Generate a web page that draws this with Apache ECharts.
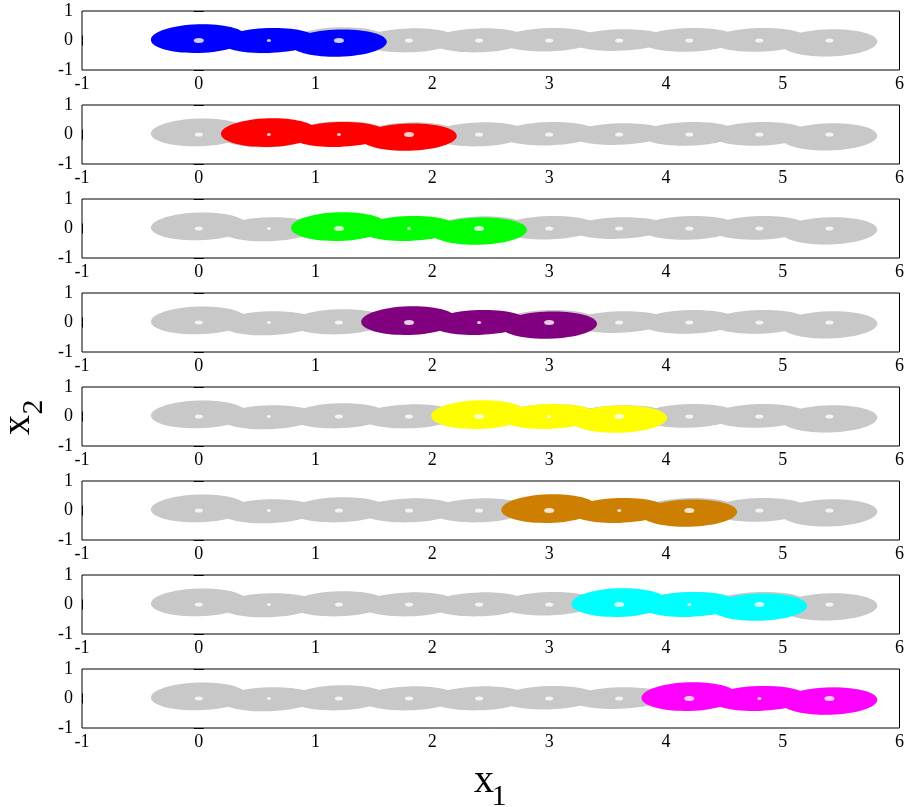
<!DOCTYPE html>
<html>
<head>
<meta charset="utf-8">
<script src="https://cdn.jsdelivr.net/npm/echarts@6/dist/echarts.min.js"></script>
<style>
  html, body { margin: 0; padding: 0; background: #fff; }
  #main { width: 907px; height: 807px; }
</style>
</head>
<body>
<div id="main"></div>
<script>
  // loop centres along x1 (one white hole in the middle of each loop)
  const loopCenters = [0, 0.6, 1.2, 1.8, 2.4, 3.0, 3.6, 4.2, 4.8, 5.4]
  const loopHalfWidth = 0.41

  // grey background band, top / bottom of each loop (x2)
  const grayTop = [0.54, 0.38, 0.45, 0.41, 0.41, 0.42, 0.38, 0.42, 0.42, 0.38]
  const grayBottom = [-0.40, -0.43, -0.40, -0.40, -0.40, -0.37, -0.35, -0.38, -0.38, -0.54]

  // highlighted trajectory: three loops, first / middle / last
  const trajTop = [0.55, 0.42, 0.37]
  const trajBottom = [-0.42, -0.42, -0.55]

  // one panel per highlighted trajectory
  const panelFirstLoop = [0, 1, 2, 3, 4, 5, 6, 7]
  const panelColors = ['#0000ff', '#ff0000', '#00ff00', '#800080', '#ffff00', '#cc7f00', '#00ffff', '#ff00ff']

  const xTicks = [-1, 0, 1, 2, 3, 4, 5, 6]
  const yTicks = [-1, 0, 1]

  const GRAY = '#c8c8c8'
  const LOOP_TILT = 0.03
  const HOLE_BIG = [10, 5]
  const HOLE_GRAY = [8, 4]
  const HOLE_SMALL = [4, 3]
  const LABEL_FONT = '"Liberation Serif", serif'

  function renderEllipse(params, api) {
    const c = api.coord([api.value(0), api.value(1)])
    const s = api.size([api.value(2), api.value(3)])
    return {
      type: 'ellipse',
      x: c[0], y: c[1], rotation: LOOP_TILT,
      shape: { cx: 0, cy: 0, rx: s[0], ry: s[1] },
      style: { fill: api.visual('color') }
    }
  }

  function ellipse(cx, top, bottom) {
    return [cx, (top + bottom) / 2, loopHalfWidth, (top - bottom) / 2]
  }

  const grid = [], xAxis = [], yAxis = [], series = []

  panelFirstLoop.forEach((first, i) => {
    grid.push({
      left: 82, top: 11 + 94 * i, width: 821, height: 59,
      show: true, borderColor: '#000', borderWidth: 1
    })
    const xBase = {
      gridIndex: i, type: 'value', min: xTicks[0], max: xTicks[xTicks.length - 1], interval: 1,
      axisLine: { show: false },
      axisTick: { inside: true, length: 5, lineStyle: { color: '#000' } },
      splitLine: { show: false }
    }
    xAxis.push(Object.assign({}, xBase, {
      position: 'bottom',
      axisLabel: { color: '#000', fontSize: 18, fontFamily: LABEL_FONT, margin: 5 }
    }))
    xAxis.push(Object.assign({}, xBase, { position: 'top', axisLabel: { show: false } }))
    const yBase = {
      gridIndex: i, type: 'value', min: yTicks[0], max: yTicks[yTicks.length - 1], interval: 1,
      axisLine: { show: false },
      axisTick: { inside: true, length: 5, lineStyle: { color: '#000' } },
      splitLine: { show: false }
    }
    yAxis.push(Object.assign({}, yBase, {
      position: 'left',
      axisLabel: { color: '#000', fontSize: 18, fontFamily: LABEL_FONT, margin: 9 }
    }))
    yAxis.push(Object.assign({}, yBase, { position: 'right', axisLabel: { show: false } }))

    // grey band
    series.push({
      type: 'custom', xAxisIndex: 2 * i, yAxisIndex: 2 * i, silent: true,
      itemStyle: { color: GRAY },
      renderItem: renderEllipse,
      data: loopCenters.map((cx, k) => ellipse(cx, grayTop[k], grayBottom[k]))
    })
    // coloured trajectory
    series.push({
      type: 'custom', xAxisIndex: 2 * i, yAxisIndex: 2 * i, silent: true,
      itemStyle: { color: panelColors[i] },
      renderItem: renderEllipse,
      data: trajTop.map((t, j) => ellipse(loopCenters[first + j], t, trajBottom[j]))
    })
    // white holes at the loop centres
    series.push({
      type: 'scatter', xAxisIndex: 2 * i, yAxisIndex: 2 * i, silent: true,
      symbol: 'circle',
      itemStyle: { color: '#fff' },
      symbolSize: (v, p) => {
        const k = p.dataIndex
        if (k === first + 1 || k === 1) return HOLE_SMALL
        if (k === first || k === first + 2) return HOLE_BIG
        return HOLE_GRAY
      },
      data: loopCenters.map(cx => [cx, 0])
    })
  })

  const chart = echarts.init(document.getElementById('main'), null, { renderer: 'canvas' })
  chart.setOption({
    animation: false,
    grid: grid,
    xAxis: xAxis,
    yAxis: yAxis,
    series: series,
    graphic: [
      { type: 'text', x: 484, y: 781, silent: true,
        style: { text: 'x', font: '40px "Liberation Serif"', fill: '#000', textAlign: 'center', textVerticalAlign: 'middle' } },
      { type: 'text', x: 499, y: 797, silent: true,
        style: { text: '1', font: '30px "Liberation Serif"', fill: '#000', textAlign: 'center', textVerticalAlign: 'middle' } },
      { type: 'text', x: 18, y: 425, rotation: Math.PI / 2, silent: true,
        style: { text: 'x', font: '40px "Liberation Serif"', fill: '#000', textAlign: 'center', textVerticalAlign: 'middle' } },
      { type: 'text', x: 34, y: 407, rotation: Math.PI / 2, silent: true,
        style: { text: '2', font: '30px "Liberation Serif"', fill: '#000', textAlign: 'center', textVerticalAlign: 'middle' } }
    ]
  })
</script>
</body>
</html>
